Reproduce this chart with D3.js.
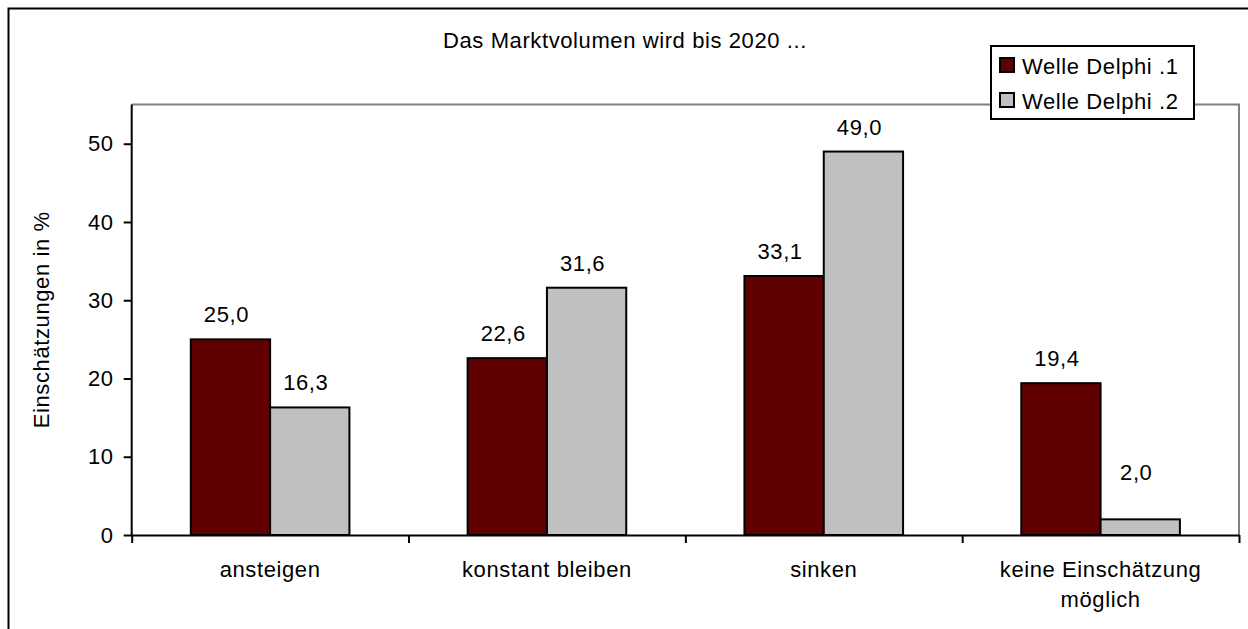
<!DOCTYPE html>
<html>
<head>
<meta charset="utf-8">
<script src="https://cdn.jsdelivr.net/npm/d3@7"></script>
<style>
  body { margin: 0; background: #fff; }
  text { font-family: "Liberation Sans", Arial, sans-serif; font-size: 22px; fill: #000; letter-spacing: 0.6px; }
</style>
</head>
<body>
<div id="chart"></div>
<script>
// chart data
var categories = ["ansteigen", "konstant bleiben", "sinken", "keine Einschätzung möglich"];
var seriesNames = ["Welle Delphi .1", "Welle Delphi .2"];
var delphi1 = [25.0, 22.6, 33.1, 19.4];
var delphi2 = [16.3, 31.6, 49.0, 2.0];
var yTicks = [0, 10, 20, 30, 40, 50];
var chartTitle = "Das Marktvolumen wird bis 2020 ...";
var yTitle = "Einschätzungen in %";

var colors = ["#600000", "#c0c0c0"];

var svgWidth = 1248;
var svgHeight = 629;

var plot = { left: 131.7, right: 1239, top: 104.6, bottom: 535 };

var svg = d3.select("#chart")
  .append("svg")
  .attr("width", svgWidth)
  .attr("height", svgHeight);

// outer frame (only left and top edges are inside the picture)
svg.append("rect")
  .attr("x", 8.5)
  .attr("y", 8.5)
  .attr("width", 1400)
  .attr("height", 800)
  .attr("fill", "none")
  .attr("stroke", "#000")
  .attr("stroke-width", 2);

var y = d3.scaleLinear()
  .domain([0, 55])
  .range([plot.bottom, plot.top]);

var x0 = d3.scaleBand()
  .domain(categories)
  .range([plot.left, plot.right])
  .paddingInner(0.427)
  .paddingOuter(0.2135);

var x1 = d3.scaleBand()
  .domain(seriesNames)
  .range([0, x0.bandwidth()]);

// gray plot frame, top and right
svg.append("path")
  .attr("d", `M${plot.left},${plot.top}H${plot.right}V${plot.bottom}`)
  .attr("fill", "none")
  .attr("stroke", "#808080")
  .attr("stroke-width", 2);

// rows of data per category
var rows = categories.map(function(c, i) {
  return { cat: c, values: [delphi1[i], delphi2[i]] };
});

var groups = svg.selectAll("g.cat")
  .data(rows)
  .enter()
  .append("g")
  .attr("class", "cat")
  .attr("transform", d => `translate(${x0(d.cat)},0)`);

groups.selectAll("rect")
  .data(d => d.values.map((v, j) => ({ name: seriesNames[j], value: v, idx: j })))
  .enter()
  .append("rect")
  .attr("x", d => x1(d.name))
  .attr("y", d => y(d.value))
  .attr("width", x1.bandwidth())
  .attr("height", d => y(0) - y(d.value))
  .attr("fill", d => colors[d.idx])
  .attr("stroke", "#000")
  .attr("stroke-width", 2);

var fmt = function(v) { return d3.format(".1f")(v).replace(".", ","); };

groups.selectAll("text.val")
  .data(d => d.values.map((v, j) => ({ name: seriesNames[j], value: v })))
  .enter()
  .append("text")
  .attr("class", "val")
  .attr("x", d => x1(d.name) + x1.bandwidth() / 2 - 4)
  .attr("y", d => Math.min(y(d.value) - 17, y(7)))
  .attr("text-anchor", "middle")
  .text(d => fmt(d.value));

// y axis
var leftAxis = d3.axisLeft(y)
  .tickValues(yTicks)
  .tickSize(8)
  .tickPadding(10)
  .tickFormat(d3.format("d"));

var yAxis = svg.append("g")
  .attr("transform", `translate(${plot.left},0)`)
  .call(leftAxis);
yAxis.select(".domain")
  .attr("d", `M0,${plot.top}V${plot.bottom}`)
  .attr("stroke-width", 2);
yAxis.selectAll(".tick line").attr("stroke-width", 2);
yAxis.selectAll("text").style("font-size", "22px").style("font-family", null);

// x axis: ticks between categories
var xEdge = d3.scaleLinear()
  .domain([0, categories.length])
  .range([plot.left, plot.right]);

var bottomAxis = d3.axisBottom(xEdge)
  .tickValues(d3.range(categories.length + 1))
  .tickSize(8)
  .tickSizeOuter(0)
  .tickFormat("");

var xAxis = svg.append("g")
  .attr("transform", `translate(0,${plot.bottom})`)
  .call(bottomAxis);
xAxis.select(".domain").attr("stroke-width", 2);
xAxis.selectAll(".tick line").attr("stroke-width", 2);

// category labels, wrapped
function wrapLines(str, maxWidth) {
  var words = str.split(" ");
  var lines = [];
  var line = "";
  var probe = svg.append("text").attr("visibility", "hidden");
  words.forEach(function(w) {
    var test = line ? line + " " + w : w;
    probe.text(test);
    if (probe.node().getComputedTextLength() > maxWidth && line) {
      lines.push(line);
      line = w;
    } else {
      line = test;
    }
  });
  lines.push(line);
  probe.remove();
  return lines;
}

categories.forEach(function(c) {
  var t = svg.append("text")
    .attr("text-anchor", "middle")
    .attr("x", x0(c) + x0.bandwidth() / 2)
    .attr("y", 577);
  wrapLines(c, 230).forEach(function(line, i) {
    t.append("tspan")
      .attr("x", x0(c) + x0.bandwidth() / 2)
      .attr("dy", i === 0 ? 0 : 30)
      .text(line);
  });
});

// y title
svg.append("text")
  .attr("transform", "rotate(-90)")
  .attr("x", -(plot.top + plot.bottom) / 2)
  .attr("y", 49)
  .attr("text-anchor", "middle")
  .text(yTitle);

// chart title
svg.append("text")
  .attr("x", 625)
  .attr("y", 48)
  .attr("text-anchor", "middle")
  .text(chartTitle);

// legend
var legend = svg.append("g").attr("transform", "translate(991,46)");
legend.append("rect")
  .attr("width", 203)
  .attr("height", 73)
  .attr("fill", "#fff")
  .attr("stroke", "#000")
  .attr("stroke-width", 2);

var items = legend.selectAll("g.item")
  .data(seriesNames)
  .enter()
  .append("g")
  .attr("class", "item")
  .attr("transform", (d, i) => `translate(9,${12 + i * 35})`);

items.append("rect")
  .attr("width", 14)
  .attr("height", 14)
  .attr("fill", (d, i) => colors[i])
  .attr("stroke", "#000")
  .attr("stroke-width", 2);

items.append("text")
  .attr("x", 22)
  .attr("y", 16)
  .text(d => d);
</script>
</body>
</html>
